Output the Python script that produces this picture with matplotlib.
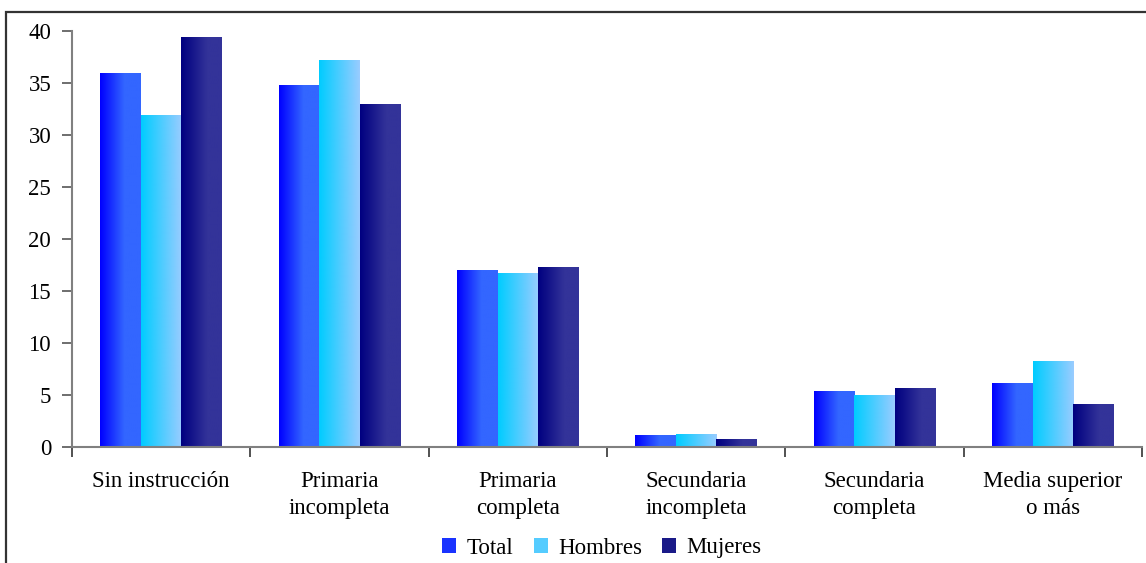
import matplotlib
matplotlib.use("Agg")
import matplotlib.pyplot as plt
import numpy as np
from matplotlib.patches import Rectangle, Patch
from matplotlib.colors import to_rgb

categories = ["Sin instrucción", "Primaria\nincompleta", "Primaria\ncompleta",
              "Secundaria\nincompleta", "Secundaria\ncompleta", "Media superior\no más"]
series_names = ["Total", "Hombres", "Mujeres"]
total = [35.9, 34.8, 17.0, 1.15, 5.3, 6.1]
hombres = [31.9, 37.2, 16.7, 1.25, 5.0, 8.2]
mujeres = [39.4, 32.9, 17.3, 0.75, 5.6, 4.1]
yticks = [0, 5, 10, 15, 20, 25, 30, 35, 40]

series = [total, hombres, mujeres]
grads = [("#0000FF", "#3366FF", 0.6), ("#00CCFF", "#99CCFF", 1.0), ("#000080", "#333399", 0.65)]

plt.rcParams['font.family'] = ['Liberation Serif', 'DejaVu Serif']

fig = plt.figure(figsize=(11.46, 5.63), dpi=100)
W, H = 1146, 563
ax = fig.add_axes([72 / W, 1 - 447 / H, (1142 - 72) / W, (447 - 31) / H])

def gradient_img(c0, c1, frac, n=64):
    a = np.array(to_rgb(c0)); b = np.array(to_rgb(c1))
    t = np.clip(np.linspace(0, 1, n) / frac, 0, 1)
    return (a[None, :] * (1 - t[:, None]) + b[None, :] * t[:, None])[None, :, :]

bw = 0.227
x = np.arange(len(categories))
for i, (vals, g) in enumerate(zip(series, grads)):
    img = gradient_img(*g)
    offs = (i - 1) * bw
    bars = ax.bar(x + offs, vals, width=bw, color=g[1], linewidth=0, zorder=2)
    for b in bars:
        x0, w_, h_ = b.get_x(), b.get_width(), b.get_height()
        ax.imshow(img, extent=[x0, x0 + w_, 0, h_], aspect='auto', zorder=3,
                  interpolation='bilinear')

ax.set_xlim(-0.5, len(categories) - 0.5)
ax.set_ylim(0, 40)
ax.set_yticks(yticks)
ax.set_yticklabels([str(t) for t in yticks], fontsize=16.5)
ax.set_xticks(np.arange(-0.5, len(categories), 1.0))
ax.set_xticklabels([])
ax.set_xticks(x, minor=True)
ax.set_xticklabels(categories, minor=True, fontsize=16.5, linespacing=1.4)
ax.tick_params(axis='x', which='minor', length=0, pad=17)
ax.tick_params(axis='x', which='major', length=7, width=1.2, color='#333333', direction='out')
ax.tick_params(axis='y', length=7, width=1.2, color='#555555', direction='out', pad=8)
for s in ['top', 'right']:
    ax.spines[s].set_visible(False)
ax.spines['left'].set_color('#808080')
ax.spines['left'].set_linewidth(1.5)
ax.spines['bottom'].set_color('#808080')
ax.spines['bottom'].set_linewidth(1.5)
ax.spines['bottom'].set_zorder(5)

handles = [Patch(facecolor=g[0]) for g in grads]
leg = fig.legend(handles, series_names, loc='center', bbox_to_anchor=(602 / W, 1 - 548 / H),
                 ncol=3, frameon=False, fontsize=16.5, handlelength=0.6, handleheight=0.6,
                 handletextpad=0.45, columnspacing=0.9)
leg_cols = ["#1a33ff", "#55ccff", "#1a1a88"]
for h, c in zip(leg.legend_handles, leg_cols):
    h.set_facecolor(c)

fig.patches.append(Rectangle((6 / W, -0.05), 1.2, 1 - 12 / H + 0.05, transform=fig.transFigure,
                             fill=False, edgecolor='#333333', linewidth=1.6))

fig.savefig("out.png", dpi=100)
